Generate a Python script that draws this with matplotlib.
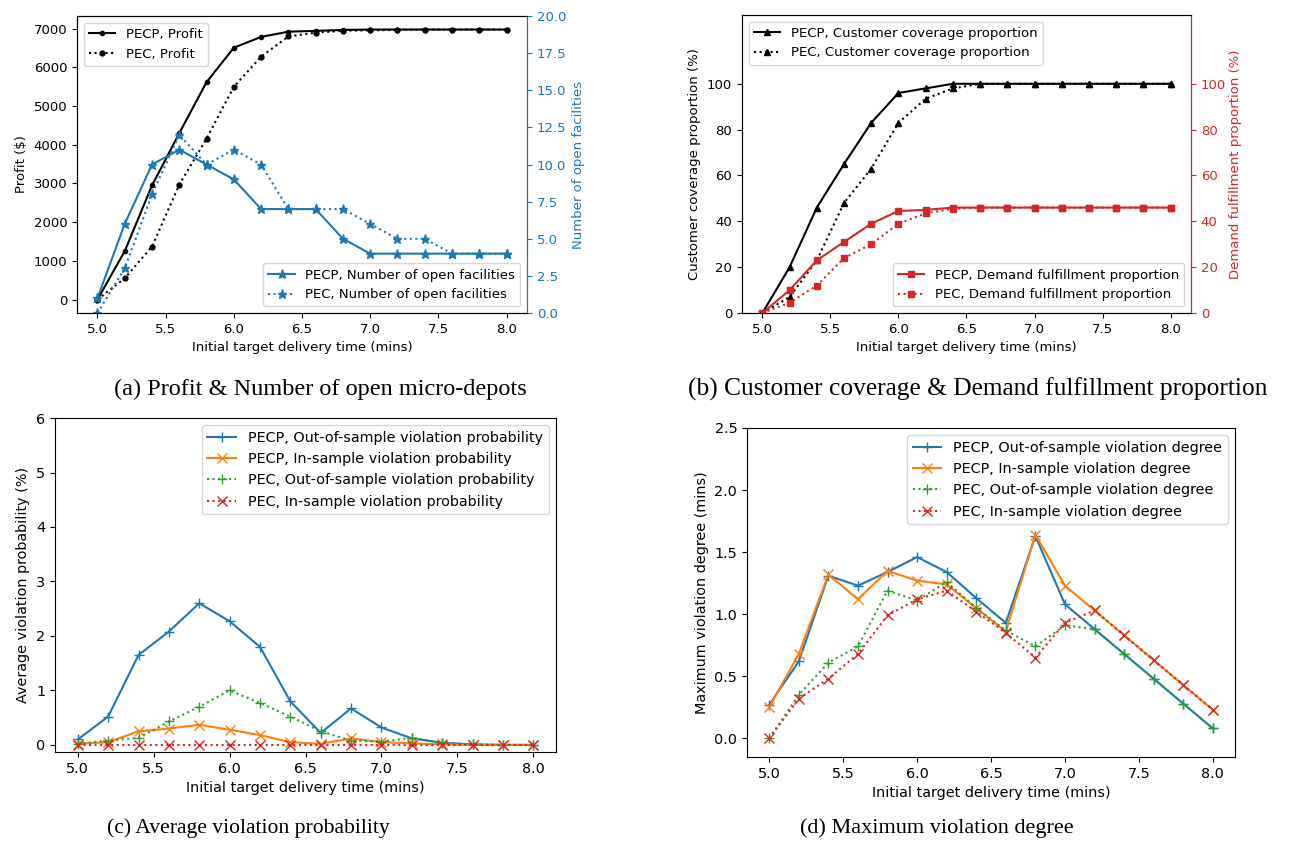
import numpy as np
import matplotlib.pyplot as plt

# Initial target delivery times (mins)
times = [5.0, 5.2, 5.4, 5.6, 5.8, 6.0, 6.2, 6.4, 6.6, 6.8, 7.0, 7.2, 7.4, 7.6, 7.8, 8.0]

# (a) profit and open facilities
profit_pecp = [0, 1250, 2950, 4300, 5620, 6510, 6790, 6925, 6945, 6970, 6980, 6980, 6980, 6980, 6980, 6980]
profit_pec = [0, 550, 1370, 2970, 4160, 5500, 6280, 6800, 6900, 6950, 6960, 6970, 6980, 6980, 6980, 6980]
fac_pecp = [1, 6, 10, 11, 10, 9, 7, 7, 7, 5, 4, 4, 4, 4, 4, 4]
fac_pec = [0, 3, 8, 12, 10, 11, 10, 7, 7, 7, 6, 5, 5, 4, 4, 4]

# (b) customer coverage and demand fulfillment (%)
cover_pecp = [0, 20, 46, 65, 83, 96, 98, 100, 100, 100, 100, 100, 100, 100, 100, 100]
cover_pec = [0, 7, 23, 48, 63, 83, 93.5, 98, 100, 100, 100, 100, 100, 100, 100, 100]
demand_pecp = [0, 10, 23, 31, 39, 44.5, 45, 46, 46, 46, 46, 46, 46, 46, 46, 46]
demand_pec = [0, 4.5, 12, 24, 30, 39, 43.5, 45.5, 46, 46, 46, 46, 46, 46, 46, 46]

# (c) average violation probability (%)
avg_out_pecp = [0.1, 0.52, 1.65, 2.08, 2.6, 2.27, 1.8, 0.8, 0.22, 0.67, 0.32, 0.12, 0.04, 0.01, 0.0, 0.0]
avg_in_pecp = [0.02, 0.05, 0.25, 0.3, 0.37, 0.28, 0.18, 0.05, 0.02, 0.12, 0.05, 0.03, 0.01, 0.0, 0.0, 0.0]
avg_out_pec = [0.02, 0.08, 0.13, 0.43, 0.7, 1.0, 0.77, 0.52, 0.25, 0.08, 0.06, 0.13, 0.04, 0.01, 0.0, 0.0]
avg_in_pec = [0.0, 0.0, 0.0, 0.0, 0.0, 0.0, 0.0, 0.0, 0.0, 0.0, 0.0, 0.0, 0.0, 0.0, 0.0, 0.0]

# (d) maximum violation degree (mins)
max_out_pecp = [0.27, 0.62, 1.31, 1.23, 1.34, 1.46, 1.34, 1.13, 0.93, 1.63, 1.08, 0.88, 0.68, 0.48, 0.28, 0.08]
max_in_pecp = [0.25, 0.68, 1.32, 1.12, 1.35, 1.27, 1.24, 1.05, 0.86, 1.64, 1.23, 1.03, 0.83, 0.63, 0.43, 0.23]
max_out_pec = [0.0, 0.35, 0.61, 0.74, 1.19, 1.11, 1.26, 1.05, 0.87, 0.74, 0.91, 0.88, 0.68, 0.48, 0.28, 0.08]
max_in_pec = [0.0, 0.32, 0.48, 0.68, 0.99, 1.12, 1.19, 1.02, 0.85, 0.65, 0.93, 1.03, 0.83, 0.63, 0.43, 0.23]

blue = '#1f77b4'
red = '#d62728'
xlab = 'Initial target delivery time (mins)'

fig = plt.figure(figsize=(12.94, 8.44), dpi=100)

# ---- (a) ----
fs = 9.5
ax1 = fig.add_axes([0.0595, 0.6291, 0.3478, 0.3519])
ax1.plot(times, profit_pecp, '-', color='black', marker='.', label='PECP, Profit')
ax1.plot(times, profit_pec, ':', color='black', marker='.', markersize=7, label='PEC, Profit')
ax1.set_xlabel(xlab, fontsize=fs)
ax1.set_ylabel('Profit ($)', fontsize=fs)
ax1.tick_params(labelsize=fs)
ax1.legend(loc='upper left', fontsize=fs)
ax1r = ax1.twinx()
ax1r.plot(times, fac_pecp, '-', color=blue, marker='*', markersize=6.5, label='PECP, Number of open facilities')
ax1r.plot(times, fac_pec, ':', color=blue, marker='*', markersize=6.5, label='PEC, Number of open facilities')
ax1r.set_ylim(0, 20)
ax1r.set_ylabel('Number of open facilities', color=blue, fontsize=fs)
ax1r.tick_params(axis='y', colors=blue, labelsize=fs)
ax1r.spines['right'].set_color(blue)
ax1r.legend(loc='lower right', fontsize=fs)

# ---- (b) ----
ax2 = fig.add_axes([0.5734, 0.6291, 0.3470, 0.3531])
ax2.plot(times, cover_pecp, '-', color='black', marker='^', markersize=4.5, label='PECP, Customer coverage proportion')
ax2.plot(times, cover_pec, ':', color='black', marker='^', markersize=4.5, label='PEC, Customer coverage proportion')
ax2.set_ylim(0, 130)
ax2.set_yticks([0, 20, 40, 60, 80, 100])
ax2.set_xlabel(xlab, fontsize=fs)
ax2.set_ylabel('Customer coverage proportion (%)', fontsize=fs)
ax2.tick_params(labelsize=fs)
ax2.legend(loc='upper left', fontsize=fs)
ax2r = ax2.twinx()
ax2r.plot(times, demand_pecp, '-', color=red, marker='s', markersize=4.5, label='PECP, Demand fulfillment proportion')
ax2r.plot(times, demand_pec, ':', color=red, marker='s', markersize=4.5, label='PEC, Demand fulfillment proportion')
ax2r.set_ylim(0, 130)
ax2r.set_yticks([0, 20, 40, 60, 80, 100])
ax2r.set_ylabel('Demand fulfillment proportion (%)', color=red, fontsize=fs, labelpad=2)
ax2r.tick_params(axis='y', colors=red, labelsize=fs)
ax2r.spines['right'].set_color(red)
ax2r.legend(loc='lower right', fontsize=fs)

# ---- (c) ----
fs2 = 10.4
ax3 = fig.add_axes([0.0425, 0.1090, 0.3872, 0.3957])
ax3.plot(times, avg_out_pecp, '-', marker='+', markersize=7, label='PECP, Out-of-sample violation probability')
ax3.plot(times, avg_in_pecp, '-', marker='x', markersize=7, label='PECP, In-sample violation probability')
ax3.plot(times, avg_out_pec, ':', marker='+', markersize=7, label='PEC, Out-of-sample violation probability')
ax3.plot(times, avg_in_pec, ':', marker='x', markersize=7, label='PEC, In-sample violation probability')
ax3.set_ylim(top=6)
ax3.set_xlabel(xlab, fontsize=fs2)
ax3.set_ylabel('Average violation probability (%)', fontsize=fs2)
ax3.tick_params(labelsize=fs2)
ax3.legend(loc='upper right', fontsize=fs2)

# ---- (d) ----
ax4 = fig.add_axes([0.5773, 0.1031, 0.3771, 0.3898])
ax4.plot(times, max_out_pecp, '-', marker='+', markersize=7, label='PECP, Out-of-sample violation degree')
ax4.plot(times, max_in_pecp, '-', marker='x', markersize=7, label='PECP, In-sample violation degree')
ax4.plot(times, max_out_pec, ':', marker='+', markersize=7, label='PEC, Out-of-sample violation degree')
ax4.plot(times, max_in_pec, ':', marker='x', markersize=7, label='PEC, In-sample violation degree')
ax4.set_ylim(-0.15, 2.5)
ax4.set_xlabel(xlab, fontsize=fs2)
ax4.set_ylabel('Maximum violation degree (mins)', fontsize=fs2)
ax4.tick_params(labelsize=fs2)
ax4.legend(loc='upper right', fontsize=fs2)

# captions
fig.text(320 / 1294, 1 - 389 / 844, '(a) Profit & Number of open micro-depots',
         ha='center', va='center', family='Liberation Serif', fontsize=17.5)
fig.text(978 / 1294, 1 - 389 / 844, '(b) Customer coverage & Demand fulfillment proportion',
         ha='center', va='center', family='Liberation Serif', fontsize=18.3)
fig.text(248 / 1294, 1 - 828 / 844, '(c) Average violation probability',
         ha='center', va='center', family='Liberation Serif', fontsize=15.6)
fig.text(937 / 1294, 1 - 828 / 844, '(d) Maximum violation degree',
         ha='center', va='center', family='Liberation Serif', fontsize=16)

fig.savefig('out.png', dpi=100)
